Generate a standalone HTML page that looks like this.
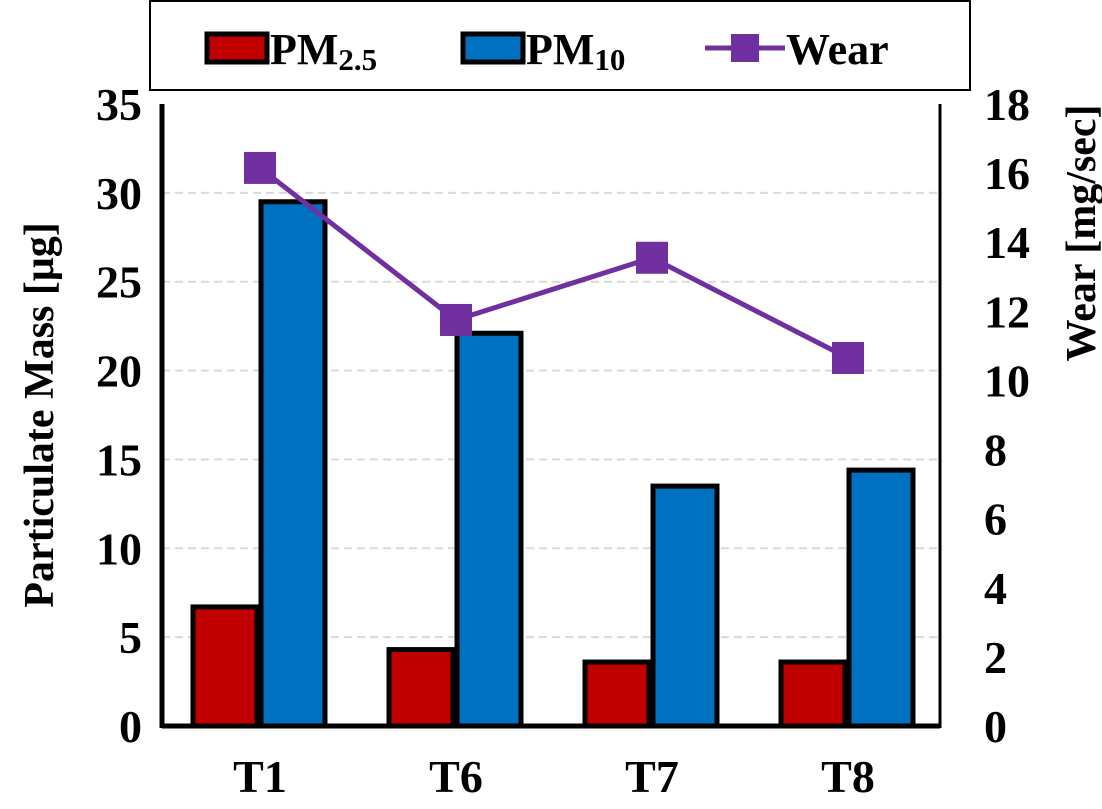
<!DOCTYPE html>
<html><head><meta charset="utf-8"><style>
body{margin:0;background:#fff}
svg text{font-family:"Liberation Serif",serif;font-weight:bold;fill:#000}
</style></head><body>
<svg id="chart" width="1102" height="804">
<g id="grid"></g><g id="bars"></g><g id="axes"></g><g id="line"></g>
<g>
<rect x="150" y="1" width="820" height="89" fill="#fff" stroke="#000" stroke-width="2"/>
<g><rect x="207" y="34" width="60" height="28" fill="#c00000" stroke="#000" stroke-width="5"/><text x="270" y="64" font-size="44">PM<tspan font-size="31" dy="6">2.5</tspan></text></g>
<g><rect x="463" y="34" width="60" height="28" fill="#0070c0" stroke="#000" stroke-width="5"/><text x="526" y="64" font-size="44">PM<tspan font-size="31" dy="6">10</tspan></text></g>
<g><line x1="705" y1="48" x2="785" y2="48" stroke="#7030a0" stroke-width="5"/><rect x="731" y="34" width="28" height="28" fill="#7030a0"/><text x="786" y="64" font-size="44">Wear</text></g>
</g>
<text transform="translate(53,415) rotate(-90)" text-anchor="middle" font-size="42">Particulate Mass [μg]</text>
<text transform="translate(1095,233) rotate(-90)" text-anchor="middle" font-size="42">Wear [mg/sec]</text>
</svg>
<script>
const categories=["T1","T6","T7","T8"];
const pm25=[6.7,4.3,3.6,3.6];
const pm10=[29.5,22.1,13.5,14.4];
const wear=[16.15,11.75,13.55,10.65];
const leftTicks=[0,5,10,15,20,25,30,35];
const rightTicks=[0,2,4,6,8,10,12,14,16,18];
const NS="http://www.w3.org/2000/svg";
const X0=162,X1=940,Y0=726,Y1=104;
const yL=v=>Y0-(v/35)*(Y0-Y1);
const yR=v=>Y0-(v/18)*(Y0-Y1);
const bw=196;
const cx=i=>X0+bw*(i+0.5);
function mk(tag,attrs,parent){const e=document.createElementNS(NS,tag);for(const k in attrs)e.setAttribute(k,attrs[k]);document.getElementById(parent).appendChild(e);return e;}
leftTicks.forEach(t=>{
 if(t>0&&t<35){const g=mk('line',{x1:X0,x2:X1,y1:yL(t),y2:yL(t),stroke:'#d9d9d9','stroke-width':2,'stroke-dasharray':'8,5'},'grid');
 
 }
 const tx=mk('text',{x:142,y:yL(t)+16,'text-anchor':'end','font-size':46},'axes');tx.textContent=t;
 
 
});
rightTicks.forEach(t=>{
 const tx=mk('text',{x:984,y:yR(t)+16,'text-anchor':'start','font-size':46},'axes');tx.textContent=t;
 
 
});
categories.forEach((c,i)=>{
 const b1=mk('rect',{x:cx(i)-67,y:yL(pm25[i]),width:64,height:Y0-yL(pm25[i]),fill:'#c00000',stroke:'#000','stroke-width':5},'bars');
 
 
 const b2=mk('rect',{x:cx(i)+1,y:yL(pm10[i]),width:64,height:Y0-yL(pm10[i]),fill:'#0070c0',stroke:'#000','stroke-width':5},'bars');
 
 
 const tx=mk('text',{x:cx(i),y:792,'text-anchor':'middle','font-size':46},'axes');tx.textContent=c;
 
 
});
const axL=mk('line',{x1:X0,x2:X0,y1:Y1,y2:Y0+2,stroke:'#000','stroke-width':5},'axes');


const axR=mk('line',{x1:X1,x2:X1,y1:Y1,y2:Y0+2,stroke:'#000','stroke-width':3},'axes');


const axB=mk('line',{x1:X0,x2:X1,y1:Y0,y2:Y0,stroke:'#000','stroke-width':5},'axes');


const pl=mk('polyline',{points:wear.map((v,i)=>cx(i)+','+yR(v)).join(' '),fill:'none',stroke:'#7030a0','stroke-width':5},'line');


wear.forEach((v,i)=>{
 const m=mk('rect',{x:cx(i)-16,y:yR(v)-16,width:32,height:32,fill:'#7030a0'},'line');
 
 
});
</script>
</body></html>
